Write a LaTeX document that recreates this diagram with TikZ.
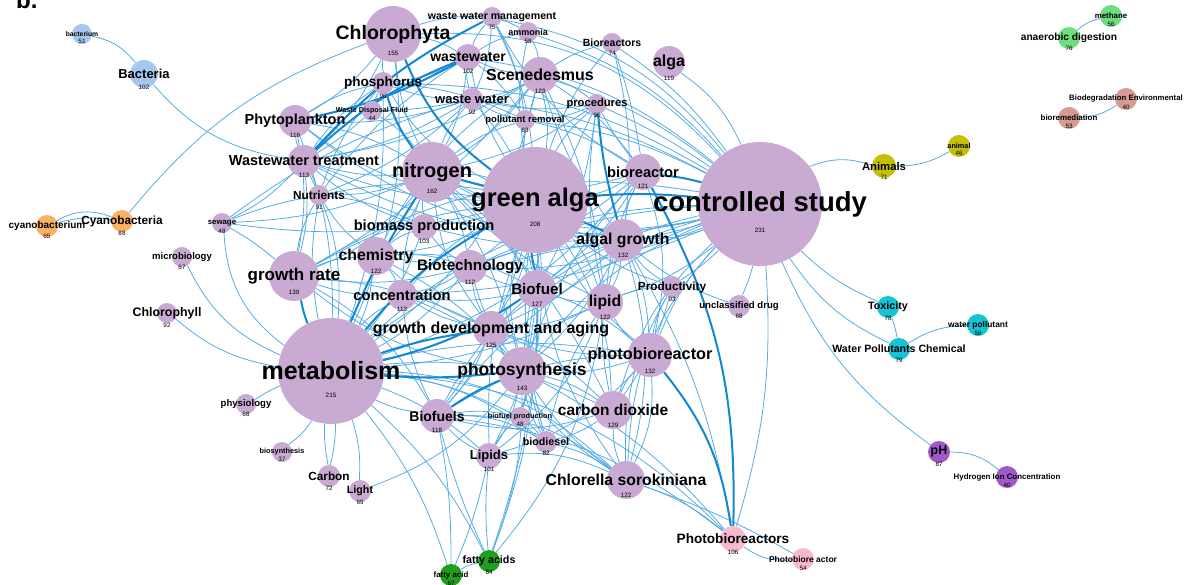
\documentclass[tikz,border=0pt]{standalone}
\usepackage{fontspec}
\setmainfont{Liberation Sans}
\usepackage{tikz}
\usetikzlibrary{calc}
\definecolor{lav}{RGB}{200,170,210}
\definecolor{skyb}{RGB}{165,200,238}
\definecolor{orng}{RGB}{248,178,100}
\definecolor{mint}{RGB}{110,222,128}
\definecolor{salmonN}{RGB}{214,155,146}
\definecolor{oliveN}{RGB}{196,192,10}
\definecolor{cyanN}{RGB}{24,196,210}
\definecolor{violetN}{RGB}{160,90,200}
\definecolor{pinkN}{RGB}{248,184,206}
\definecolor{greenN}{RGB}{30,160,30}
\definecolor{edgeB}{RGB}{85,172,228}
\definecolor{edgeD}{RGB}{20,135,210}
\pgfdeclarelayer{edges}
\pgfdeclarelayer{dots}
\pgfsetlayers{edges,dots,main}
\newcommand{\kwfont}[1]{\fontsize{#1}{#1}\selectfont\bfseries}
\tikzset{
  kwdot/.style={circle,inner sep=0pt,draw=none},
  kwlbl/.style={inner sep=0pt,text=black},
  kwnum/.style={inner sep=0pt,text=black,font=\fontsize{6.3}{6.3}\selectfont},
  link/.style={draw=edgeB,line width=0.8pt},
  heavy/.style={draw=edgeD,line width=2pt}
}
% name, x, y, radius, colour, label size, label, count
\newcommand{\kw}[8]{%
  \begin{pgfonlayer}{dots}
  \node[kwdot,fill=#5,minimum size=2*#4] (#1) at (#2,#3) {};
  \end{pgfonlayer}
  \node[kwlbl,font=\kwfont{#6}] (#1-l) at (#2,#3) {#7};
  \node[kwnum] (#1-n) at (#2,{#3+#6*0.93+1}) {#8};
}
\begin{document}
\begin{tikzpicture}[x=1pt,y=-1pt,line cap=round]
\useasboundingbox (0,0) rectangle (1188,585);
\node[kwlbl,font=\kwfont{24},anchor=base west] (panel) at (16,9) {b.};

\kw{bacterium}{82}{34}{10}{skyb}{6.8}{bacterium}{51}
\kw{bacteria}{144}{74}{14}{skyb}{13}{Bacteria}{102}
\kw{chlorophyta}{393}{34}{28}{lav}{19.5}{Chlorophyta}{155}
\kw{wwm}{492}{17}{10}{lav}{10.6}{waste water management}{75}
\kw{ammonia}{528}{32}{10}{lav}{9}{ammonia}{58}
\kw{bioreactors}{612}{43}{10}{lav}{10.5}{Bioreactors}{74}
\kw{alga}{669}{62}{16}{lav}{16}{alga}{119}
\kw{wastewater}{468}{57}{13}{lav}{14}{wastewater}{102}
\kw{scened}{540}{75}{18}{lav}{16}{Scenedesmus}{123}
\kw{phosph}{383}{83}{11}{lav}{13.5}{phosphorus}{96}
\kw{wdf}{372}{111}{10}{lav}{7.2}{Waste Disposal Fluid}{44}
\kw{wwater}{472}{99}{11}{lav}{13}{waste water}{92}
\kw{pollrem}{525}{120}{10}{lav}{9.5}{pollutant removal}{63}
\kw{proced}{597}{104}{10}{lav}{11.2}{procedures}{90}
\kw{phyto}{295}{121}{16}{lav}{14.5}{Phytoplankton}{116}
\kw{wwt}{304}{161}{16}{lav}{14.5}{Wastewater treatment}{113}
\kw{nitrogen}{432}{172}{30}{lav}{20}{nitrogen}{162}
\kw{galga}{535}{200}{53}{lav}{25.5}{green alga}{208}
\kw{bioreactor}{643}{172}{18}{lav}{14.7}{bioreactor}{121}
\kw{cstudy}{760}{204}{62}{lav}{27.5}{controlled study}{231}
\kw{nutrients}{319}{195}{10}{lav}{11.8}{Nutrients}{91}
\kw{sewage}{222}{223}{10}{lav}{7.8}{sewage}{48}
\kw{cyano}{122}{221}{11}{orng}{11.8}{Cyanobacteria}{88}
\kw{cyanob}{47}{226}{11}{orng}{10}{cyanobacterium}{65}
\kw{microbio}{182}{257}{10}{lav}{9.5}{microbiology}{67}
\kw{chlorophyll}{167}{313}{10}{lav}{12.4}{Chlorophyll}{92}
\kw{biomass}{424}{227}{13}{lav}{14.7}{biomass production}{103}
\kw{chem}{376}{256}{19}{lav}{15.8}{chemistry}{122}
\kw{grate}{294}{276}{25}{lav}{17}{growth rate}{139}
\kw{biotech}{470}{267}{17}{lav}{15.2}{Biotechnology}{112}
\kw{agrowth}{623}{240}{21}{lav}{15.8}{algal growth}{132}
\kw{conc}{402}{295}{15}{lav}{14.7}{concentration}{113}
\kw{biofuel}{537}{289}{19}{lav}{15.2}{Biofuel}{127}
\kw{lipid}{605}{302}{18}{lav}{15.8}{lipid}{122}
\kw{product}{672}{287}{11}{lav}{11.8}{Productivity}{93}
\kw{udrug}{739}{306}{11}{lav}{9.6}{unclassified drug}{68}
\kw{gda}{491}{329}{18}{lav}{16}{growth development and aging}{125}
\kw{metab}{331}{371}{53}{lav}{25}{metabolism}{215}
\kw{photosyn}{522}{371}{24}{lav}{17.5}{photosynthesis}{143}
\kw{pbr}{650}{355}{22}{lav}{16.3}{photobioreactor}{132}
\kw{toxicity}{888}{307}{11}{cyanN}{10.7}{Toxicity}{78}
\kw{wpc}{899}{349}{11}{cyanN}{10.6}{Water Pollutants Chemical}{79}
\kw{wpoll}{978}{325}{11}{cyanN}{8.4}{water pollutant}{56}
\kw{animals}{884}{166}{12}{oliveN}{11.3}{Animals}{71}
\kw{animal}{959}{146}{11}{oliveN}{7.3}{animal}{46}
\kw{methane}{1111}{16}{11}{mint}{7.9}{methane}{56}
\kw{anaer}{1069}{38}{11}{mint}{10.2}{anaerobic digestion}{76}
\kw{biodeg}{1126}{99}{11}{salmonN}{7.8}{Biodegradation Environmental}{40}
\kw{biorem}{1069}{118}{11}{salmonN}{7.9}{bioremediation}{53}
\kw{physio}{246}{404}{10}{lav}{9.6}{physiology}{68}
\kw{biosyn}{282}{452}{10}{lav}{7.3}{biosynthesis}{37}
\kw{carbon}{329}{476}{11}{lav}{11.8}{Carbon}{72}
\kw{light}{360}{491}{11}{lav}{10.7}{Light}{69}
\kw{biofuels}{437}{416}{17}{lav}{14}{Biofuels}{118}
\kw{bfprod}{520}{417}{10}{lav}{7.3}{biofuel production}{48}
\kw{co2}{613}{410}{19}{lav}{15.5}{carbon dioxide}{129}
\kw{biodiesel}{546}{442}{11}{lav}{10.7}{biodiesel}{82}
\kw{lipids}{489}{456}{13}{lav}{13}{Lipids}{101}
\kw{chlorella}{626}{480}{19}{lav}{15.8}{Chlorella sorokiniana}{122}
\kw{pbrs}{733}{539}{13}{pinkN}{13.6}{Photobioreactors}{106}
\kw{pbract}{803}{559}{11}{pinkN}{8.5}{Photobiore actor}{54}
\kw{ph}{939}{452}{11}{violetN}{12.4}{pH}{87}
\kw{hion}{1007}{477}{11}{violetN}{7.9}{Hydrogen Ion Concentration}{40}
\kw{facids}{489}{561}{11}{greenN}{10.7}{fatty acids}{84}
\kw{facid}{451}{575}{11}{greenN}{7.9}{fatty acid}{67}

\begin{pgfonlayer}{edges}
% outer clusters
\foreach \a/\b/\c in {bacterium/bacteria/20,bacteria/wwt/-20,cyanob/cyano/25,cyanob/cyano/12,
  cyano/chlorophyta/15,methane/anaer/-15,biorem/biodeg/-15,animals/animal/-15,cstudy/animals/20,
  cstudy/toxicity/-10,toxicity/wpc/5,cstudy/wpc/-15,wpc/wpoll/15,cstudy/ph/-15,ph/hion/20,
  cstudy/udrug/5,alga/cstudy/15,bioreactors/cstudy/10,bioreactors/bioreactor/5,chlorophyta/cstudy/25,
  wwm/cstudy/20,ammonia/cstudy/15,scened/cstudy/10,proced/cstudy/5,wastewater/cstudy/15,
  wwater/cstudy/10,pollrem/cstudy/10,phosph/cstudy/15,sewage/metab/-25,microbio/metab/-20,
  chlorophyll/metab/-15,physio/metab/5,biosyn/metab/-10,carbon/metab/6,carbon/metab/-6,
  light/metab/-10,light/photosyn/-15,facids/metab/-10,facids/biofuels/5,facids/lipids/5,
  facids/photosyn/-10,facids/lipid/-15,facids/biofuel/-10,facids/galga/-10,facid/metab/-10,
  facid/biofuels/-5,facid/facids/10,facid/lipids/-5,cstudy/pbrs/10,agrowth/pbrs/10,
  pbrs/pbract/-20,chlorella/pbract/5,metab/pbrs/20,biofuels/pbrs/15,photosyn/pbrs/10,
  chlorella/pbrs/10,sewage/nitrogen/-10,sewage/nutrients/5,sewage/wwt/-10,sewage/galga/-10,
  sewage/grate/5,sewage/wwater/10,cstudy/product/5,udrug/agrowth/10}
  \draw[link] (\a) to[bend left=\c] (\b);
% green alga
\foreach \a/\b/\c in {nitrogen/galga/10,galga/chem/10,galga/grate/-10,galga/biomass/5,galga/biotech/5,
  galga/conc/-10,galga/gda/10,galga/photosyn/-15,galga/lipid/10,galga/pbr/-10,galga/co2/15,
  galga/biofuels/10,galga/lipids/-10,galga/chlorella/-15,galga/proced/10,galga/pollrem/5,
  galga/wwt/10,galga/phyto/15,galga/nutrients/-10,galga/scened/-10,galga/wastewater/10,
  galga/wwater/-5,galga/phosph/15,galga/bioreactor/-10,galga/bioreactors/10,galga/wwm/-10,
  galga/ammonia/10,galga/product/-10,galga/bfprod/10,galga/biodiesel/-10}
  \draw[link] (\a) to[bend left=\c] (\b);
% controlled study and metabolism
\foreach \a/\b/\c in {cstudy/metab/-20,cstudy/nitrogen/20,cstudy/agrowth/10,cstudy/biofuel/-10,
  cstudy/lipid/10,cstudy/pbr/-10,cstudy/photosyn/-15,cstudy/gda/-10,cstudy/chlorella/-20,
  cstudy/co2/-15,cstudy/biotech/-10,cstudy/grate/-20,cstudy/biomass/15,cstudy/chem/15,
  cstudy/wwt/20,cstudy/phyto/25,cstudy/biofuels/-15,cstudy/conc/10,metab/chem/-10,metab/conc/10,
  metab/biotech/-10,metab/lipids/10,metab/lipid/-10,metab/pbr/10,metab/co2/15,metab/chlorella/20,
  metab/biofuels/-10,metab/bfprod/10,metab/biodiesel/15,metab/chlorophyta/-15,metab/phyto/-10,
  metab/wwt/-15,metab/nutrients/10,metab/agrowth/15,metab/biomass/-10,metab/bioreactor/-15,
  metab/scened/-20,metab/phosph/-10}
  \draw[link] (\a) to[bend left=\c] (\b);
% nitrogen and the rest
\foreach \a/\b/\c in {nitrogen/wastewater/-10,nitrogen/wwater/10,nitrogen/wwt/10,nitrogen/phyto/-10,
  nitrogen/nutrients/10,nitrogen/chem/10,nitrogen/grate/15,nitrogen/biomass/-10,nitrogen/biotech/10,
  nitrogen/conc/-10,nitrogen/scened/-10,nitrogen/agrowth/-10,nitrogen/biofuel/10,nitrogen/lipid/-10,
  nitrogen/photosyn/10,nitrogen/gda/-15,nitrogen/chlorophyta/10,nitrogen/wdf/-10,
  nitrogen/pollrem/10,nitrogen/bioreactor/-15,nitrogen/proced/-10,nitrogen/co2/10,
  wwt/phyto/10,wwt/wwater/-10,wwt/nutrients/5,wwt/phosph/10,wwt/wdf/-5,wwt/chlorophyta/-10,
  wwt/biomass/-10,wwt/grate/10,wwt/scened/-10,phyto/chlorophyta/-10,phyto/phosph/10,
  phyto/wwater/-10,phyto/grate/10,wastewater/wwm/10,wastewater/wwater/-10,wastewater/phosph/10,
  wastewater/chlorophyta/-10,wastewater/pollrem/10,wastewater/scened/-10,wastewater/ammonia/10,
  wastewater/nutrients/-10,wwm/wwater/10,wwm/ammonia/5,wwm/chlorophyta/-10,wwm/pollrem/10,
  wwm/bioreactor/-15,wwater/pollrem/-10,wwater/phosph/10,wwater/wdf/5,wwater/scened/-10,
  wwater/nutrients/10,wwater/proced/-10,scened/proced/10,scened/agrowth/-10,scened/bioreactor/10,
  scened/biofuel/-15,scened/lipid/10,scened/chem/-15,scened/grate/10,proced/bioreactor/-5,
  proced/lipid/-10,proced/biofuel/10,proced/photosyn/-10,bioreactor/agrowth/-10,
  bioreactor/biofuel/10,bioreactor/lipid/-10,bioreactor/pbr/15,bioreactor/biotech/10,
  bioreactor/photosyn/-10,agrowth/lipid/10,agrowth/biofuel/-10,agrowth/pbr/10,agrowth/product/-10,
  agrowth/photosyn/10,agrowth/biotech/-10,agrowth/gda/10,agrowth/co2/-15,agrowth/chlorella/15,
  lipid/biofuel/10,lipid/pbr/-10,lipid/lipids/15,lipid/product/10,lipid/biodiesel/-10,lipid/gda/10,
  product/pbr/-10,product/chlorella/-15,product/co2/10,pbr/co2/-10,pbr/chlorella/15,
  pbr/photosyn/10,pbr/biofuel/-10,pbr/gda/10,pbr/biofuels/-15,pbr/lipids/15,biofuel/biotech/10,
  biofuel/gda/-10,biofuel/photosyn/10,biofuel/biodiesel/-15,biofuel/lipids/10,biofuel/biofuels/-10,
  biofuel/conc/10,biofuel/chem/-15,biofuel/bfprod/10,biotech/chem/-10,biotech/conc/10,
  biotech/gda/-10,biotech/biomass/10,biotech/grate/10,biotech/photosyn/-10,chem/conc/10,
  chem/grate/-10,chem/biomass/10,chem/gda/-10,chem/photosyn/10,grate/conc/-10,grate/gda/10,
  grate/photosyn/-15,grate/nutrients/10,grate/biofuels/15,conc/gda/-10,conc/photosyn/10,
  conc/biofuels/-10,gda/photosyn/-10,gda/biofuels/10,gda/co2/10,gda/chlorella/-15,
  photosyn/co2/10,photosyn/chlorella/-10,photosyn/bfprod/10,photosyn/biodiesel/-10,
  photosyn/lipids/10,co2/chlorella/-10,co2/biofuels/15,co2/biodiesel/10,biofuels/lipids/-10,
  biofuels/bfprod/10,biofuels/biodiesel/15,biofuels/chlorella/20,lipids/bfprod/10,
  lipids/chlorella/15,biodiesel/chlorella/10,bfprod/biodiesel/5,nutrients/phosph/10,
  nutrients/biomass/10,nutrients/chem/-10,phosph/wdf/-5,phosph/chlorophyta/10,phosph/pollrem/10,
  pollrem/proced/-10,pollrem/bioreactor/10,ammonia/scened/10,bioreactors/scened/-10,
  bioreactors/agrowth/10}
  \draw[link] (\a) to[bend left=\c] (\b);
% strongest links
\foreach \a/\b/\c in {chlorophyta/galga/-15,phosph/nitrogen/-10,nitrogen/galga/0,metab/galga/10,
  galga/cstudy/5,metab/gda/5,grate/metab/-5,bioreactor/cstudy/5,agrowth/galga/0,biofuel/galga/5,
  wwt/wastewater/10,proced/agrowth/-5,biofuels/photosyn/5,metab/biofuel/-10,wwm/wwt/-10,
  wastewater/phyto/8,metab/nitrogen/5,metab/photosyn/-5,pbr/pbrs/15,bioreactor/pbrs/15}
  \draw[heavy] (\a) to[bend left=\c] (\b);
\end{pgfonlayer}
\end{tikzpicture}
\end{document}
